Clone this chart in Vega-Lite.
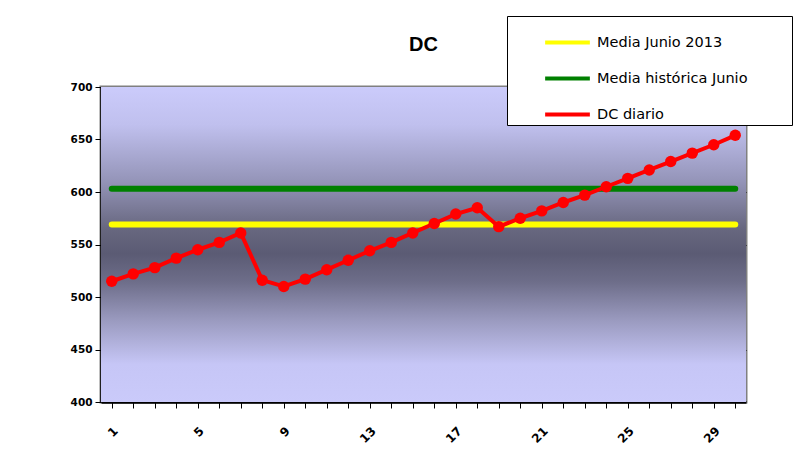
{
  "$schema": "https://vega.github.io/schema/vega-lite/v6.json",
  "width": 645,
  "height": 315,
  "autosize": {"type": "none"},
  "padding": {"left": 101, "top": 87, "right": 62, "bottom": 72},
  "background": "white",
  "title": {"text": "DC", "fontSize": 20, "font": "Liberation Sans", "fontWeight": "bold", "color": "black", "offset": -39, "anchor": "middle"},
  "config": {
    "font": "Liberation Sans",
    "view": {"stroke": "#808080", "strokeWidth": 3},
    "axis": {"labelFont": "DejaVu Sans", "labelFontWeight": "bold", "labelFontSize": 10.5, "labelColor": "black", "domainColor": "black", "domainWidth": 2.5, "tickColor": "black", "tickWidth": 1, "tickSize": 6, "title": null}
  },
  "datasets": {
    "dc": [
      {"day": 1, "series": "DC diario", "value": 515},
      {"day": 2, "series": "DC diario", "value": 522},
      {"day": 3, "series": "DC diario", "value": 528},
      {"day": 4, "series": "DC diario", "value": 537},
      {"day": 5, "series": "DC diario", "value": 545},
      {"day": 6, "series": "DC diario", "value": 552},
      {"day": 7, "series": "DC diario", "value": 561},
      {"day": 8, "series": "DC diario", "value": 516},
      {"day": 9, "series": "DC diario", "value": 510},
      {"day": 10, "series": "DC diario", "value": 517},
      {"day": 11, "series": "DC diario", "value": 526},
      {"day": 12, "series": "DC diario", "value": 535},
      {"day": 13, "series": "DC diario", "value": 544},
      {"day": 14, "series": "DC diario", "value": 552},
      {"day": 15, "series": "DC diario", "value": 561},
      {"day": 16, "series": "DC diario", "value": 570},
      {"day": 17, "series": "DC diario", "value": 579},
      {"day": 18, "series": "DC diario", "value": 585},
      {"day": 19, "series": "DC diario", "value": 567},
      {"day": 20, "series": "DC diario", "value": 575},
      {"day": 21, "series": "DC diario", "value": 582},
      {"day": 22, "series": "DC diario", "value": 590},
      {"day": 23, "series": "DC diario", "value": 597},
      {"day": 24, "series": "DC diario", "value": 605},
      {"day": 25, "series": "DC diario", "value": 613},
      {"day": 26, "series": "DC diario", "value": 621},
      {"day": 27, "series": "DC diario", "value": 629},
      {"day": 28, "series": "DC diario", "value": 637},
      {"day": 29, "series": "DC diario", "value": 645},
      {"day": 30, "series": "DC diario", "value": 654}
    ],
    "means": [
      {"day": 1, "series": "Media Junio 2013", "value": 569},
      {"day": 30, "series": "Media Junio 2013", "value": 569},
      {"day": 1, "series": "Media histórica Junio", "value": 603},
      {"day": 30, "series": "Media histórica Junio", "value": 603}
    ]
  },
  "layer": [
    {
      "data": {"values": [{"bg": 1}]},
      "mark": {"type": "rect", "fill": {"gradient": "linear", "x1": 0, "y1": 0, "x2": 0, "y2": 1, "stops": [
        {"offset": 0, "color": "#cbcbfb"},
        {"offset": 0.12, "color": "#c0c0ee"},
        {"offset": 0.3, "color": "#9494b8"},
        {"offset": 0.45, "color": "#67677f"},
        {"offset": 0.53, "color": "#5b5b74"},
        {"offset": 0.62, "color": "#6e6e8a"},
        {"offset": 0.74, "color": "#9a9abf"},
        {"offset": 0.88, "color": "#c6c6f6"},
        {"offset": 1, "color": "#cacafa"}
      ]}},
      "encoding": {}
    },
    {
      "data": {"name": "means"},
      "mark": {"type": "line", "strokeWidth": 6, "strokeCap": "round"},
      "encoding": {
        "x": {"field": "day", "type": "ordinal", "scale": {"domain": [1,2,3,4,5,6,7,8,9,10,11,12,13,14,15,16,17,18,19,20,21,22,23,24,25,26,27,28,29,30]},
          "axis": {"labelAngle": -45, "labelPadding": 17, "labelFontSize": 12, "labelExpr": "(+datum.value - 1) % 4 == 0 ? datum.label : ''", "grid": false}},
        "y": {"field": "value", "type": "quantitative", "scale": {"domain": [400, 700], "nice": false, "zero": false},
          "axis": {"values": [400, 450, 500, 550, 600, 650, 700], "labelPadding": 3, "grid": true, "gridColor": "black", "gridDash": [5, 2, 1, 2], "gridWidth": 1,
            "gridOpacity": {"condition": {"test": "datum.value == 450 || datum.value == 550 || datum.value == 600", "value": 1}, "value": 0}}},
        "color": {"field": "series", "type": "nominal",
          "scale": {"domain": ["Media Junio 2013", "Media histórica Junio", "DC diario"], "range": ["#ffff00", "#008000", "#ff0000"]},
          "legend": {"title": null, "orient": "none", "legendX": 406, "legendY": -71, "fillColor": "white", "strokeColor": "black", "padding": 2,
            "symbolType": "stroke", "symbolSize": 2000, "symbolStrokeWidth": 4, "symbolOffset": 34, "labelFont": "DejaVu Sans", "labelFontSize": 14.5, "labelColor": "black", "rowPadding": 3, "labelOffset": 5, "labelLimit": 400,
            "labelExpr": "datum.label + '\u2800\u2800\u2800\u2800'"}}
      }
    },
    {
      "data": {"name": "dc"},
      "mark": {"type": "line", "strokeWidth": 4, "point": {"filled": true, "size": 130, "color": "#ff0000"}},
      "encoding": {
        "x": {"field": "day", "type": "ordinal"},
        "y": {"field": "value", "type": "quantitative"},
        "color": {"field": "series", "type": "nominal"}
      }
    }
  ]
}
